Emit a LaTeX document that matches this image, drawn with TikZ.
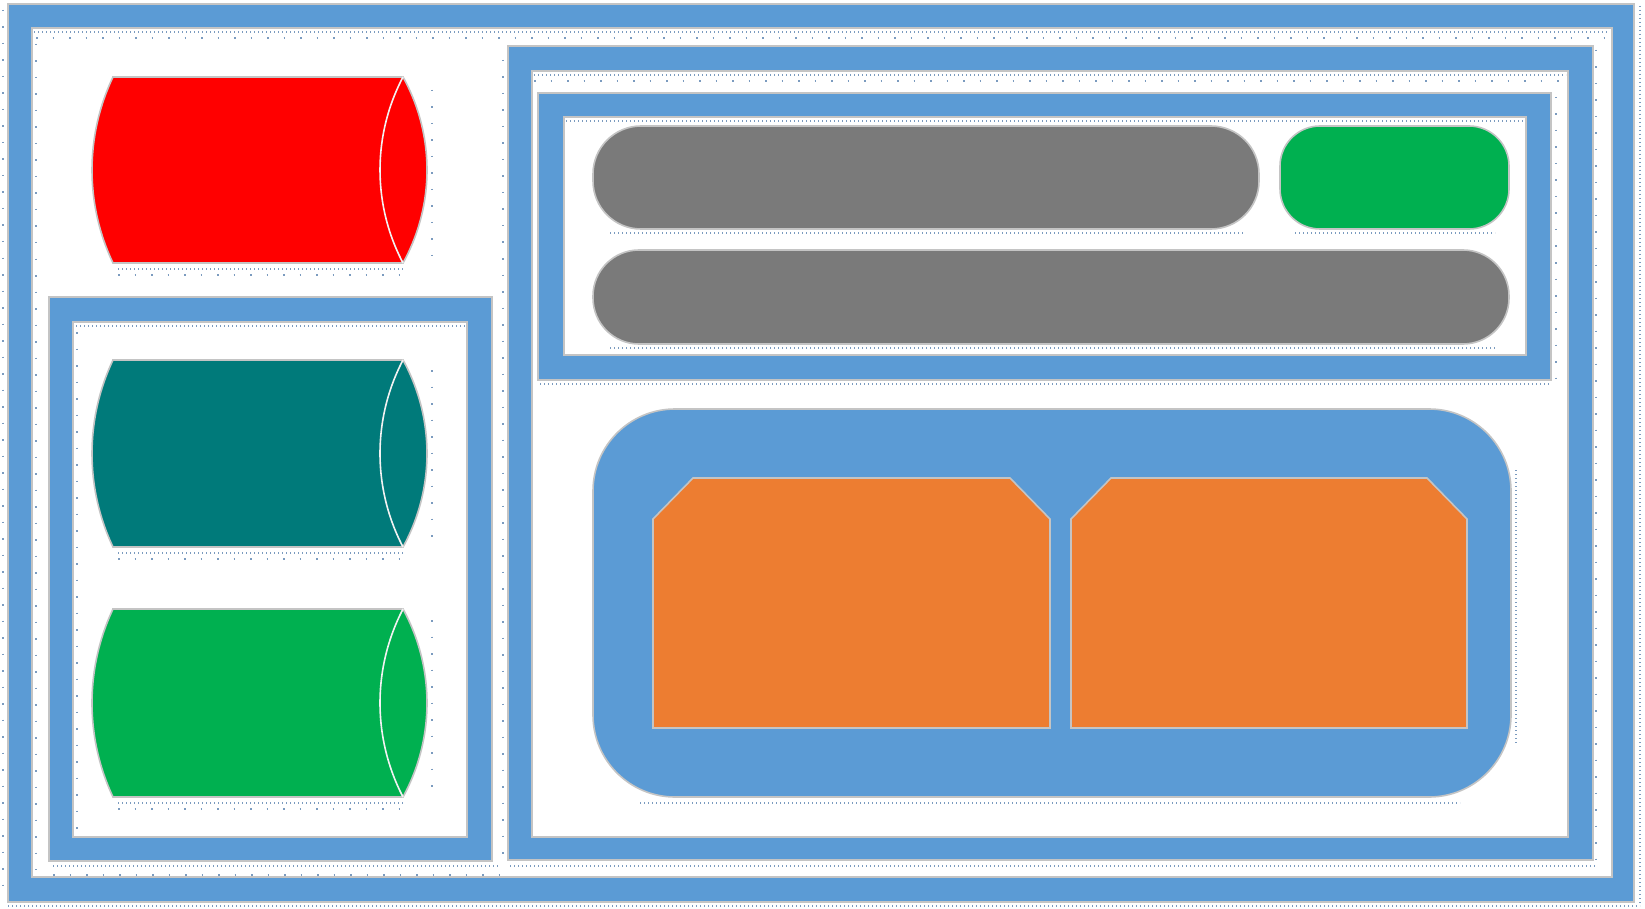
\documentclass[tikz,border=0pt]{standalone}
\definecolor{frameblue}{HTML}{5B9BD5}
\definecolor{edgegray}{HTML}{C4C4C4}
\definecolor{cred}{HTML}{FF0000}
\definecolor{cteal}{HTML}{007A7A}
\definecolor{cgreen}{HTML}{00B050}
\definecolor{cgray}{HTML}{7A7A7A}
\definecolor{corange}{HTML}{ED7D31}
\definecolor{dotblue}{HTML}{7B9BBF}
\tikzset{
  bluefill/.style={fill=frameblue, draw=edgegray, line width=2pt},
  whitefill/.style={fill=white, draw=edgegray, line width=2pt},
  shapeedge/.style={draw=edgegray, line width=1.6pt},
  speck/.style={draw=dotblue, line width=1.2pt, dash pattern=on 1.2pt off 2.8pt},
  specksparse/.style={draw=dotblue, line width=1.3pt, dash pattern=on 1.5pt off 15pt},
  cylinder/.style={shapeedge},
  innerarc/.style={draw=white!90!gray, line width=1.6pt}
}
\newcommand{\cyl}[4]{% #1 colour, #2 top y, #3 bottom y, #4 name
  \pgfmathsetmacro{\cylcy}{(#2+#3)/2}
  \pgfmathsetmacro{\cylh}{(#3-#2)/2}
  \pgfmathsetmacro{\cylRl}{(\cylh*\cylh+21*21)/42}
  \pgfmathsetmacro{\cylal}{asin(\cylh/\cylRl)}
  \pgfmathsetmacro{\cylRr}{(\cylh*\cylh+24*24)/48}
  \pgfmathsetmacro{\cylar}{asin(\cylh/\cylRr)}
  \pgfmathsetmacro{\cylRi}{(\cylh*\cylh+23*23)/46}
  \pgfmathsetmacro{\cylai}{asin(\cylh/\cylRi)}
  \draw[cylinder, fill=#1] (113,#2) -- (403,#2)
     arc[start angle=-\cylar, end angle=\cylar, radius=\cylRr]
     -- (113,#3)
     arc[start angle=180-\cylal, end angle=180+\cylal, radius=\cylRl] -- cycle;
  \draw[innerarc] (403,#2) arc[start angle=180+\cylai, end angle=180-\cylai, radius=\cylRi];
  \coordinate (#4) at (258,\cylcy);
}
\begin{document}
\begin{tikzpicture}[x=1pt,y=-1pt]
\useasboundingbox (0,0) rectangle (1645,909);
\fill[white] (0,0) rectangle (1645,909);
% outer frame
\draw[bluefill] (8,4) rectangle (1634,902);
\draw[whitefill] (32,28) rectangle (1612,877);
\draw[speck] (34,32) -- (1608,32);
\draw[specksparse] (36,38) -- (1608,38);
\draw[specksparse] (36,44) -- (36,870);
\draw[speck] (1640,6) -- (1640,905);
\draw[speck] (8,906) -- (1640,906);
\draw[specksparse] (3,10) -- (3,900);
% left panel
\draw[bluefill] (49,297) rectangle (492,861);
\draw[whitefill] (73,322) rectangle (467,837);
\draw[speck] (76,326) -- (465,326);
\draw[specksparse] (77,332) -- (77,830);
\draw[speck] (53,866) -- (500,866);
\draw[specksparse] (53,875) -- (500,875);
% right panel
\draw[bluefill] (508,46) rectangle (1593,860);
\draw[whitefill] (532,71) rectangle (1568,837);
\draw[speck] (534,75) -- (1566,75);
\draw[specksparse] (534,81) -- (1566,81);
\draw[specksparse] (1596,50) -- (1596,860);
\draw[specksparse] (503,60) -- (503,860);
\draw[speck] (510,866) -- (1595,866);
% top-right box
\draw[bluefill] (538,93) rectangle (1551,380);
\draw[whitefill] (564,117) rectangle (1526,355);
\draw[speck] (566,121) -- (1524,121);
\draw[speck] (540,384) -- (1551,384);
\draw[specksparse] (1556,97) -- (1556,380);
% pills
\draw[shapeedge, fill=cgray, rounded corners=48] (593,126) rectangle (1259,229);
\draw[shapeedge, fill=cgreen, rounded corners=40] (1280,126) rectangle (1509,229);
\draw[shapeedge, fill=cgray, rounded corners=46] (593,250) rectangle (1509,344);
\draw[speck] (610,233) -- (1245,233);
\draw[speck] (1295,233) -- (1495,233);
\draw[speck] (610,348) -- (1495,348);
% big rounded blue box
\draw[speck] (640,803) -- (1460,803);
\draw[speck] (1516,470) -- (1516,745);
\draw[shapeedge, fill=frameblue, rounded corners=82] (593,409) rectangle (1511,797);
% orange snipped boxes
\draw[shapeedge, fill=corange] (653,519) -- (693,478) -- (1010,478) -- (1050,519) -- (1050,728) -- (653,728) -- cycle;
\draw[shapeedge, fill=corange] (1071,519) -- (1111,478) -- (1427,478) -- (1467,519) -- (1467,728) -- (1071,728) -- cycle;
% cylinders
\cyl{cred}{77}{263}{redcyl}
\cyl{cteal}{360}{547}{tealcyl}
\cyl{cgreen}{609}{797}{greencyl}
\draw[speck] (118,269) -- (405,269);
\draw[specksparse] (118,275) -- (405,275);
\draw[speck] (118,553) -- (405,553);
\draw[specksparse] (118,559) -- (405,559);
\draw[speck] (118,803) -- (405,803);
\draw[specksparse] (118,809) -- (405,809);
\draw[specksparse] (432,90) -- (432,260);
\draw[specksparse] (432,370) -- (432,545);
\draw[specksparse] (432,620) -- (432,795);
\end{tikzpicture}
\end{document}
